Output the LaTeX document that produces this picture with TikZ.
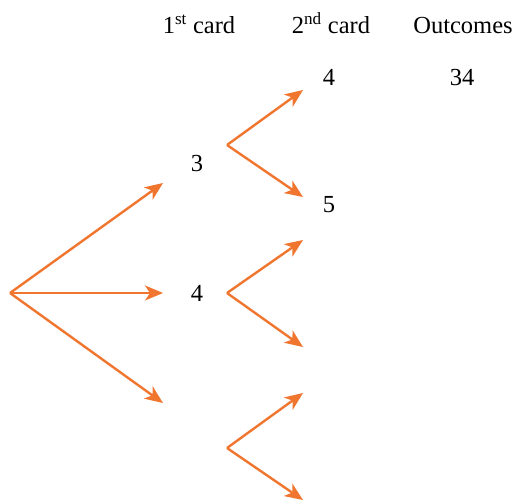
\documentclass[tikz,border=0pt]{standalone}
\usepackage{fontspec}
\setmainfont{Liberation Serif}
\usetikzlibrary{arrows.meta}
\definecolor{arr}{RGB}{240,118,48}
\begin{document}
\begin{tikzpicture}[x=1pt,y=-1pt,
  branch/.style={draw=arr,line width=2.4pt,-{Stealth[length=18pt,width=15pt,inset=5pt]}},
  lbl/.style={font=\fontsize{24.5}{28}\selectfont,inner sep=0pt,anchor=base}]
\useasboundingbox (0,0) rectangle (517,503);
% headers
\node[lbl] (h1) at (199,34) {1\textsuperscript{st} card};
\node[lbl] (h2) at (331,34) {2\textsuperscript{nd} card};
\node[lbl] (h3) at (463,34) {Outcomes};
% level 1
\coordinate (r) at (10,293);
\coordinate (e1) at (163,183);
\coordinate (e2) at (163,293);
\coordinate (e3) at (163,403);
\draw[branch] (r) -- (e1);
\draw[branch] (r) -- (e2);
\draw[branch] (r) -- (e3);
\node[lbl] (c3) at (197,171) {3};
\node[lbl] (c4) at (197,301) {4};
% level 2
\coordinate (s1) at (227,145);
\coordinate (s2) at (227,293);
\coordinate (s3) at (227,448);
\coordinate (t1) at (303,90);
\coordinate (t2) at (303,197);
\coordinate (t3) at (303,240);
\coordinate (t4) at (303,347);
\coordinate (t5) at (303,393);
\coordinate (t6) at (303,500);
\draw[branch] (s1) -- (t1);
\draw[branch] (s1) -- (t2);
\draw[branch] (s2) -- (t3);
\draw[branch] (s2) -- (t4);
\draw[branch] (s3) -- (t5);
\draw[branch] (s3) -- (t6);
\node[lbl] (d4) at (329,85) {4};
\node[lbl] (d5) at (329,212) {5};
\node[lbl] (o34) at (462,85) {34};
\end{tikzpicture}
\end{document}
